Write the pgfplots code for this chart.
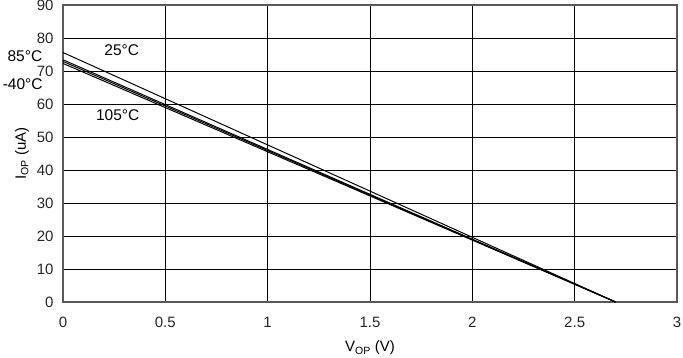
\documentclass[border=0pt]{standalone}
\usepackage{pgfplots}
\pgfplotsset{compat=1.18}
\usepackage{fontspec}
\setmainfont{Liberation Sans}
\usetikzlibrary{calc}
\begin{document}
\begin{tikzpicture}
\begin{axis}[
  scale only axis, width=614pt, height=297pt,
  xmin=0, xmax=3, ymin=0, ymax=90,
  xtick={0,0.5,...,3}, ytick={0,10,...,90},
  xticklabels={0,0.5,1,1.5,2,2.5,3},
  grid=major, major grid style={black, line width=0.7pt},
  major tick length=0pt,
  axis line style={black!65, line width=1.2pt},
  tick label style={font=\fontsize{15}{17}\selectfont, text=black!85},
  /pgf/number format/assume math mode=true,
  xticklabel style={yshift=-12pt},
  yticklabel style={xshift=-6pt},
  xlabel={V\textsubscript{OP} (V)}, ylabel={I\textsubscript{OP} (uA)},
  label style={font=\fontsize{15}{17}\selectfont},
  xlabel style={at={(axis description cs:0.5,0)}, anchor=center, yshift=-46pt},
  ylabel style={at={(axis description cs:0,0.5)}, anchor=center, yshift=41pt},
  clip=false,
]
\addplot[black, line width=1pt] coordinates {(0,75.6) (2.7,0)};
\addplot[black, line width=1pt] coordinates {(0,73.4) (2.7,0)};
\addplot[black, line width=1pt] coordinates {(0,72.9) (2.7,0)};
\addplot[black, line width=1pt] coordinates {(0,72.3) (2.7,0)};
\node[font=\fontsize{15.5}{17}\selectfont] at (axis cs:0.287,76.4) {25°C};
\node[font=\fontsize{15.5}{17}\selectfont] at (axis cs:-0.186,74.5) {85°C};
\node[font=\fontsize{15.5}{17}\selectfont] at (axis cs:-0.197,66) {-40°C};
\node[font=\fontsize{15.5}{17}\selectfont] at (axis cs:0.267,56.7) {105°C};
\end{axis}
\pgfresetboundingbox
\path[use as bounding box] ($(current axis.south west)+(-63pt,-56pt)$) rectangle ($(current axis.north east)+(6pt,5pt)$);
\end{tikzpicture}
\end{document}
